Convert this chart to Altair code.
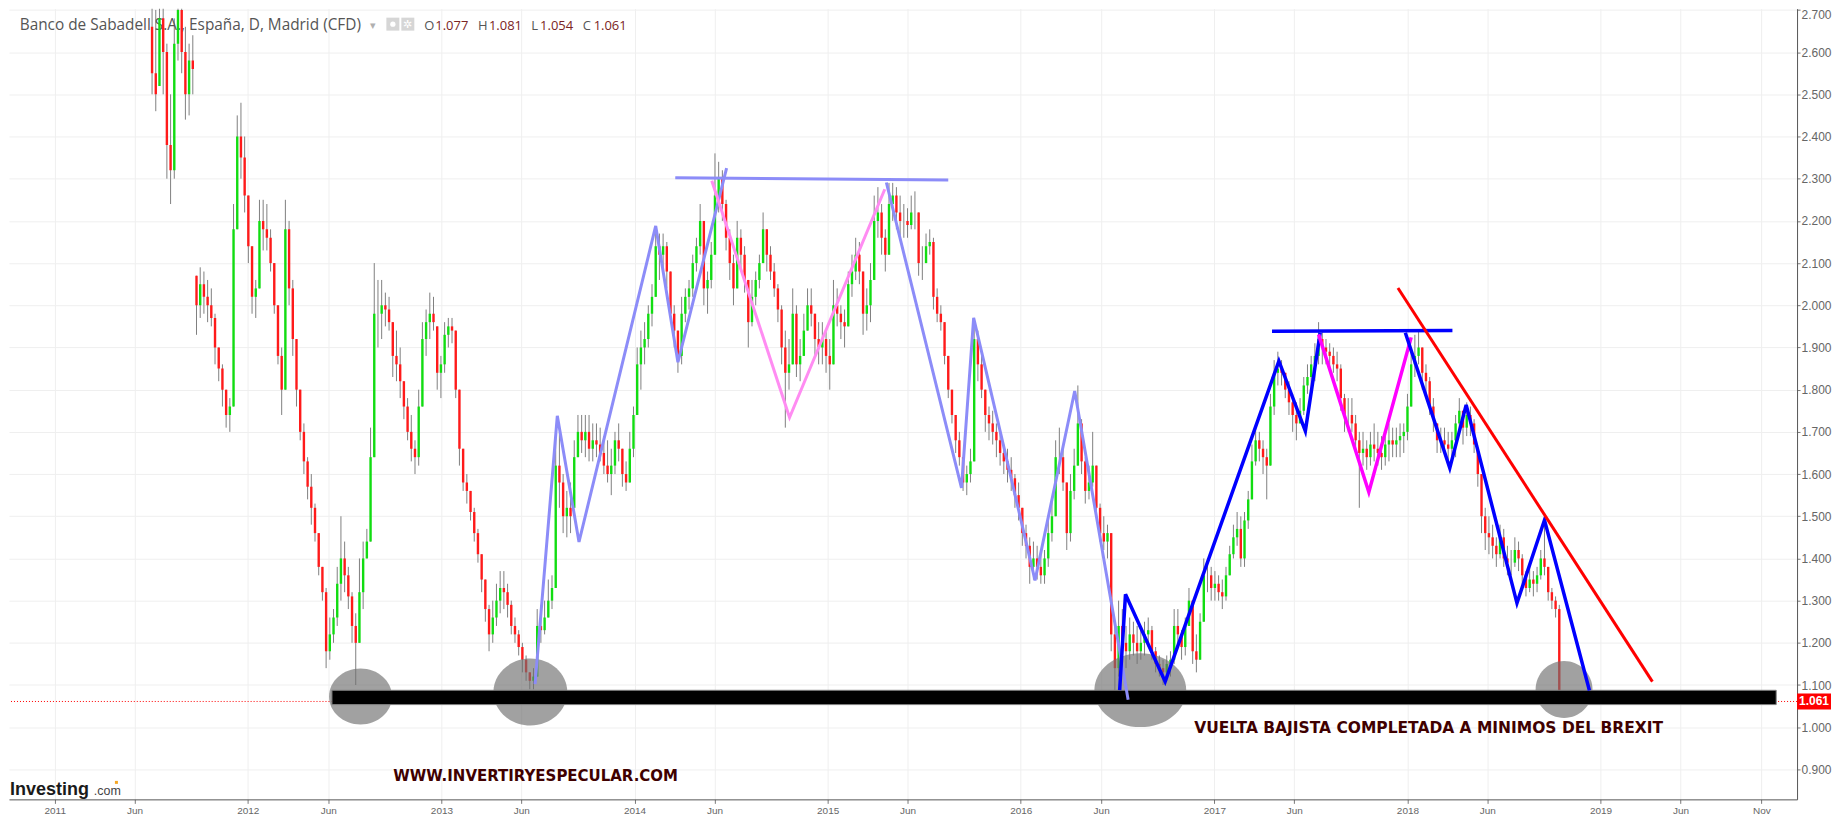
import datetime as dt
import altair as alt
import pandas as pd

# ---------------- data (weekly candles) ----------------
START = dt.date(2011, 7, 4)
FIRST_OPEN = 2.66

HIGH = [
    2.72, 2.70, 2.74, 2.74, 2.62, 2.50, 2.68, 2.76, 2.72, 2.66,
    2.62, 2.64, 2.07, 2.09, 2.08, 2.06, 2.04, 1.98, 1.90, 1.86,
    1.80, 1.78, 2.24, 2.45, 2.48, 2.40, 2.26, 2.14, 2.06, 2.25,
    2.25, 2.24, 2.18, 2.10, 2.00, 1.90, 2.25, 2.20, 2.06, 1.92,
    1.80, 1.72, 1.64, 1.60, 1.53, 1.46, 1.38, 1.33, 1.26, 1.28,
    1.38, 1.50, 1.44, 1.38, 1.32, 1.27, 1.40, 1.44, 1.47, 1.71,
    2.10, 2.06, 2.06, 2.03, 2.02, 1.96, 1.94, 1.90, 1.82, 1.78,
    1.74, 1.68, 1.80, 1.96, 1.99, 2.03, 2.02, 1.95, 1.88, 1.96,
    1.97, 1.97, 1.94, 1.80, 1.66, 1.60, 1.56, 1.52, 1.47, 1.41,
    1.35, 1.29, 1.30, 1.34, 1.37, 1.37, 1.34, 1.30, 1.26, 1.23,
    1.20, 1.17, 1.13, 1.14, 1.28, 1.29, 1.30, 1.35, 1.36, 1.70,
    1.70, 1.60, 1.56, 1.58, 1.68, 1.74, 1.74, 1.74, 1.74, 1.72,
    1.72, 1.71, 1.69, 1.68, 1.66, 1.70, 1.72, 1.66, 1.63, 1.70,
    1.76, 1.90, 1.94, 1.96, 2.00, 2.05, 2.18, 2.17, 2.17, 2.15,
    2.08, 2.00, 1.94, 2.02, 2.04, 2.06, 2.12, 2.16, 2.24, 2.20,
    2.08, 2.15, 2.36, 2.34, 2.32, 2.25, 2.18, 2.12, 2.20, 2.18,
    2.14, 2.06, 2.06, 2.08, 2.12, 2.22, 2.18, 2.14, 2.10, 2.05,
    2.00, 1.94, 1.92, 2.04, 2.00, 1.92, 1.98, 2.04, 2.04, 1.98,
    1.96, 1.96, 1.94, 1.92, 2.06, 2.04, 2.00, 1.99, 2.08, 2.12,
    2.16, 2.15, 2.08, 2.04, 2.10, 2.26, 2.28, 2.24, 2.18, 2.29,
    2.29, 2.28, 2.26, 2.24, 2.23, 2.26, 2.27, 2.22, 2.14, 2.17,
    2.18, 2.16, 2.04, 2.00, 1.96, 1.88, 1.80, 1.74, 1.70, 1.64,
    1.62, 1.66, 1.97, 1.94, 1.88, 1.80, 1.76, 1.75, 1.72, 1.70,
    1.67, 1.66, 1.64, 1.60, 1.58, 1.52, 1.48, 1.45, 1.44, 1.43,
    1.42, 1.42, 1.50, 1.54, 1.68, 1.71, 1.66, 1.58, 1.60, 1.66,
    1.81, 1.73, 1.64, 1.62, 1.70, 1.62, 1.53, 1.50, 1.48, 1.46,
    1.25, 1.30, 1.28, 1.24, 1.26, 1.25, 1.24, 1.23, 1.25, 1.26,
    1.24, 1.19, 1.17, 1.16, 1.17, 1.18, 1.28, 1.28, 1.23, 1.26,
    1.33, 1.30, 1.22, 1.27, 1.40, 1.40, 1.38, 1.37, 1.36, 1.35,
    1.38, 1.43, 1.48, 1.51, 1.50, 1.51, 1.56, 1.67, 1.72, 1.70,
    1.68, 1.66, 1.79, 1.87, 1.89, 1.87, 1.84, 1.82, 1.79, 1.77,
    1.78, 1.83, 1.86, 1.88, 1.91, 1.96, 1.94, 1.92, 1.91, 1.90,
    1.89, 1.86, 1.79, 1.78, 1.78, 1.74, 1.70, 1.70, 1.68, 1.70,
    1.72, 1.70, 1.69, 1.70, 1.72, 1.71, 1.71, 1.72, 1.72, 1.79,
    1.90, 1.93, 1.94, 1.90, 1.86, 1.83, 1.78, 1.72, 1.71, 1.71,
    1.70, 1.70, 1.74, 1.78, 1.75, 1.77, 1.76, 1.73, 1.66, 1.60,
    1.52, 1.50, 1.48, 1.45, 1.48, 1.47, 1.43, 1.42, 1.45, 1.44,
    1.41, 1.37, 1.38, 1.37, 1.38, 1.42, 1.49, 1.38, 1.33, 1.31,
    1.29,
]

LOW = [
    2.50, 2.46, 2.52, 2.50, 2.30, 2.24, 2.30, 2.58, 2.55, 2.44,
    2.45, 2.50, 1.93, 1.97, 1.98, 1.96, 1.95, 1.86, 1.82, 1.76,
    1.71, 1.70, 1.76, 2.18, 2.30, 2.22, 2.10, 1.98, 1.97, 2.04,
    2.13, 2.13, 2.08, 1.98, 1.86, 1.74, 1.80, 2.00, 1.88, 1.76,
    1.68, 1.60, 1.54, 1.48, 1.44, 1.36, 1.30, 1.14, 1.16, 1.20,
    1.24, 1.30, 1.32, 1.28, 1.20, 1.10, 1.20, 1.28, 1.40, 1.44,
    1.64, 1.90, 1.92, 1.95, 1.94, 1.83, 1.82, 1.78, 1.73, 1.68,
    1.63, 1.60, 1.62, 1.76, 1.88, 1.92, 1.94, 1.80, 1.78, 1.84,
    1.90, 1.91, 1.78, 1.62, 1.56, 1.53, 1.49, 1.44, 1.39, 1.32,
    1.25, 1.18, 1.20, 1.24, 1.27, 1.28, 1.26, 1.22, 1.20, 1.17,
    1.13, 1.11, 1.09, 1.09, 1.12, 1.20, 1.22, 1.26, 1.28, 1.33,
    1.52, 1.46, 1.45, 1.46, 1.52, 1.64, 1.65, 1.64, 1.63, 1.63,
    1.64, 1.63, 1.60, 1.58, 1.55, 1.60, 1.63, 1.57, 1.56, 1.58,
    1.64, 1.74, 1.80, 1.86, 1.90, 1.95, 2.02, 2.06, 2.08, 2.04,
    1.96, 1.90, 1.84, 1.86, 1.96, 1.99, 2.02, 2.08, 2.12, 2.00,
    1.98, 2.04, 2.12, 2.22, 2.20, 2.13, 2.06, 2.00, 2.04, 2.08,
    2.03, 1.90, 1.95, 2.00, 2.04, 2.10, 2.08, 2.06, 2.02, 1.96,
    1.86, 1.71, 1.80, 1.86, 1.83, 1.82, 1.88, 1.94, 1.95, 1.88,
    1.86, 1.86, 1.84, 1.80, 1.86, 1.95, 1.92, 1.90, 1.95, 2.02,
    2.06, 2.05, 1.93, 1.94, 1.96, 2.06, 2.16, 2.12, 2.08, 2.12,
    2.20, 2.18, 2.16, 2.16, 2.16, 2.18, 2.18, 2.07, 2.06, 2.10,
    2.12, 1.99, 1.96, 1.94, 1.86, 1.78, 1.72, 1.65, 1.62, 1.56,
    1.55, 1.58, 1.63, 1.82, 1.78, 1.70, 1.68, 1.67, 1.64, 1.62,
    1.60, 1.58, 1.56, 1.52, 1.49, 1.43, 1.40, 1.34, 1.35, 1.35,
    1.34, 1.34, 1.38, 1.44, 1.50, 1.60, 1.56, 1.42, 1.44, 1.54,
    1.62, 1.60, 1.53, 1.54, 1.57, 1.50, 1.44, 1.42, 1.40, 1.18,
    1.08, 1.12, 1.16, 1.14, 1.16, 1.17, 1.15, 1.16, 1.17, 1.19,
    1.16, 1.13, 1.12, 1.10, 1.11, 1.12, 1.15, 1.19, 1.16, 1.17,
    1.24, 1.15, 1.13, 1.16, 1.25, 1.32, 1.30, 1.30, 1.30, 1.28,
    1.30, 1.36, 1.40, 1.43, 1.38, 1.38, 1.47, 1.54, 1.62, 1.63,
    1.60, 1.54, 1.62, 1.74, 1.81, 1.81, 1.78, 1.74, 1.70, 1.68,
    1.72, 1.74, 1.79, 1.80, 1.82, 1.86, 1.86, 1.86, 1.85, 1.84,
    1.82, 1.75, 1.70, 1.70, 1.70, 1.65, 1.52, 1.62, 1.61, 1.62,
    1.63, 1.62, 1.61, 1.62, 1.63, 1.64, 1.64, 1.64, 1.65, 1.68,
    1.76, 1.83, 1.86, 1.80, 1.78, 1.74, 1.70, 1.65, 1.65, 1.65,
    1.63, 1.63, 1.64, 1.70, 1.67, 1.69, 1.69, 1.65, 1.57, 1.46,
    1.42, 1.41, 1.40, 1.38, 1.40, 1.38, 1.36, 1.36, 1.38, 1.37,
    1.34, 1.31, 1.32, 1.31, 1.32, 1.35, 1.36, 1.30, 1.28, 1.26,
    1.054,
]

CLOSE = [
    2.55, 2.50, 2.68, 2.60, 2.38, 2.32, 2.62, 2.70, 2.60, 2.50,
    2.58, 2.56, 2.00, 2.05, 2.02, 2.00, 1.97, 1.90, 1.85, 1.80,
    1.74, 1.76, 2.18, 2.40, 2.35, 2.26, 2.14, 2.02, 2.04, 2.20,
    2.18, 2.16, 2.10, 2.00, 1.88, 1.80, 2.18, 2.04, 1.92, 1.80,
    1.70, 1.63, 1.57, 1.52, 1.46, 1.38, 1.32, 1.18, 1.22, 1.26,
    1.34, 1.40, 1.36, 1.31, 1.24, 1.20, 1.32, 1.40, 1.44, 1.64,
    1.98, 1.98, 2.00, 1.99, 1.96, 1.88, 1.86, 1.82, 1.76, 1.70,
    1.66, 1.64, 1.76, 1.92, 1.96, 1.98, 1.96, 1.84, 1.86, 1.93,
    1.95, 1.94, 1.80, 1.66, 1.58, 1.56, 1.51, 1.46, 1.41, 1.35,
    1.28, 1.22, 1.26, 1.30, 1.33, 1.32, 1.29, 1.24, 1.22, 1.19,
    1.16, 1.13, 1.11, 1.12, 1.24, 1.23, 1.26, 1.30, 1.33, 1.62,
    1.58, 1.50, 1.52, 1.50, 1.64, 1.70, 1.68, 1.70, 1.66, 1.68,
    1.67, 1.65, 1.62, 1.60, 1.62, 1.68, 1.66, 1.60, 1.58, 1.66,
    1.74, 1.86, 1.90, 1.92, 1.98, 2.02, 2.14, 2.12, 2.14, 2.08,
    1.98, 1.94, 1.88, 1.98, 2.02, 2.04, 2.10, 2.14, 2.20, 2.04,
    2.06, 2.12, 2.26, 2.30, 2.24, 2.16, 2.10, 2.04, 2.16, 2.12,
    2.06, 1.96, 2.02, 2.06, 2.10, 2.18, 2.12, 2.08, 2.04, 1.99,
    1.90, 1.84, 1.86, 1.98, 1.86, 1.88, 1.94, 2.00, 1.98, 1.92,
    1.90, 1.92, 1.88, 1.86, 2.00, 1.98, 1.96, 1.95, 2.05, 2.08,
    2.12, 2.08, 1.98, 2.00, 2.06, 2.20, 2.22, 2.16, 2.12, 2.24,
    2.26, 2.22, 2.20, 2.20, 2.19, 2.22, 2.22, 2.10, 2.10, 2.14,
    2.15, 2.02, 1.98, 1.96, 1.88, 1.80, 1.74, 1.68, 1.64, 1.58,
    1.60, 1.63, 1.92, 1.86, 1.80, 1.74, 1.72, 1.70, 1.68, 1.65,
    1.63, 1.61, 1.59, 1.55, 1.52, 1.46, 1.43, 1.38, 1.40, 1.38,
    1.36, 1.40, 1.46, 1.50, 1.64, 1.64, 1.58, 1.46, 1.56, 1.62,
    1.72, 1.63, 1.56, 1.58, 1.62, 1.52, 1.46, 1.44, 1.46, 1.22,
    1.14, 1.24, 1.20, 1.18, 1.22, 1.20, 1.18, 1.20, 1.22, 1.23,
    1.18, 1.15, 1.14, 1.13, 1.15, 1.16, 1.24, 1.22, 1.19, 1.24,
    1.30, 1.18, 1.16, 1.25, 1.36, 1.36, 1.33, 1.34, 1.32, 1.31,
    1.36, 1.41, 1.45, 1.47, 1.40, 1.49, 1.54, 1.63, 1.68, 1.66,
    1.64, 1.62, 1.76, 1.84, 1.85, 1.84, 1.80, 1.77, 1.74, 1.72,
    1.75, 1.81, 1.83, 1.86, 1.88, 1.92, 1.90, 1.89, 1.88, 1.86,
    1.85, 1.78, 1.74, 1.74, 1.72, 1.68, 1.65, 1.66, 1.64, 1.67,
    1.66, 1.65, 1.64, 1.67, 1.68, 1.67, 1.68, 1.69, 1.70, 1.76,
    1.86, 1.88, 1.90, 1.84, 1.82, 1.76, 1.73, 1.68, 1.68, 1.67,
    1.66, 1.68, 1.72, 1.75, 1.71, 1.74, 1.72, 1.67, 1.60, 1.50,
    1.46, 1.45, 1.43, 1.41, 1.45, 1.40, 1.39, 1.39, 1.42, 1.40,
    1.36, 1.33, 1.35, 1.34, 1.36, 1.40, 1.38, 1.32, 1.30, 1.28,
    1.061,
]

# drawn trend lines: vertices (date, price)
LINE_POINTS = {
    "A": [("2013-06-27", 1.102), ("2013-08-08", 1.738), ("2013-09-18", 1.439),
          ("2014-02-10", 2.188), ("2014-03-24", 1.865), ("2014-06-24", 2.325)],
    "B": [("2014-03-19", 2.302), ("2015-08-17", 2.297)],
    "M1": [("2014-05-27", 2.295), ("2014-10-21", 1.734), ("2015-04-19", 2.275)],
    "C": [("2015-04-22", 2.291), ("2015-09-11", 1.567), ("2015-10-04", 1.970),
          ("2016-01-28", 1.348), ("2016-04-12", 1.797), ("2016-07-22", 1.065)],
    "D": [("2016-07-06", 1.088), ("2016-07-17", 1.315), ("2016-09-30", 1.108),
          ("2017-05-03", 1.868), ("2017-06-22", 1.702), ("2017-07-20", 1.935)],
    "E": [("2017-04-20", 1.9386), ("2018-03-27", 1.940)],
    "M2": [("2017-07-17", 1.931), ("2017-10-20", 1.557), ("2018-01-08", 1.924)],
    "G": [("2017-12-28", 1.935), ("2018-03-22", 1.614), ("2018-04-22", 1.764),
          ("2018-07-27", 1.294), ("2018-09-17", 1.491), ("2018-12-11", 1.087)],
    "R": [("2017-12-14", 2.041), ("2019-04-09", 1.108)],
}

ELLIPSE_DATES = ["2012-08-01", "2013-06-18", "2016-08-14", "2018-10-24"]
ELLIPSE_PRICES = [1.0727, 1.0833, 1.0878, 1.0892]

SUPPORT_DATES = ["2012-06-08", "2019-11-29"]
SUPPORT_PRICES = [1.0875, 1.0536]

LAST_PRICE = 1.061
LAST_LABEL = "1.061"

NOTE_TEXTS = ["WWW.INVERTIRYESPECULAR.COM",
              "VUELTA BAJISTA COMPLETADA A MINIMOS DEL BREXIT"]
NOTE_DATES = ["2013-06-28", "2018-02-10"]
NOTE_PRICES = [0.8723, 0.9851]

TITLE = "Banco de Sabadell S.A., España, D, Madrid (CFD)"
OHLC_KEYS = ["O", "H", "L", "C"]
OHLC_VALUES = ["1.077", "1.081", "1.054", "1.061"]

Y_TICKS = [round(0.9 + 0.1 * k, 1) for k in range(19)]
X_TICKS = []
for yr in range(2011, 2020):
    X_TICKS.append((yr, 1))
    X_TICKS.append((yr, 6))
X_TICKS.append((2019, 11))

# ---------------- styles ----------------
W, H = 1791, 792
TAG_W = 34
LINE_STYLE = {
    "A": ("#8c8cf8", 3), "B": ("#8c8cf8", 3), "C": ("#8c8cf8", 3),
    "M1": ("#ff8cf2", 3),
    "D": ("#0000ff", 3.5), "E": ("#0000ff", 3.5), "G": ("#0000ff", 3.5),
    "M2": ("#ff00ff", 3.5),
    "R": ("#ff0000", 3),
}
ELLIPSE_WH = [(63, 56), (74, 67), (92, 74), (57, 57)]
NOTE_SIZES = [15, 15.5]

# ---------------- tables ----------------
rows = []
prev = None
for i, (h, l, c) in enumerate(zip(HIGH, LOW, CLOSE)):
    o = FIRST_OPEN if prev is None else min(max(prev, l), h)
    rows.append({"date": (START + dt.timedelta(days=7 * i)).isoformat(),
                 "open": o, "high": h, "low": l, "close": c})
    prev = c
candles = pd.DataFrame(rows)

lrows = []
for seg, pts in LINE_POINTS.items():
    col, sw = LINE_STYLE[seg]
    for k, (d, p) in enumerate(pts):
        lrows.append({"seg": seg, "k": k, "date": d, "price": p, "col": col, "sw": sw})
lines = pd.DataFrame(lrows)

erows = []
for d, p, (w, hh) in zip(ELLIPSE_DATES, ELLIPSE_PRICES, ELLIPSE_WH):
    r = round(hh / w, 4)
    erows.append({"date": d, "price": p, "sz": w * w,
                  "shp": f"M-1,0A1,{r},0,1,1,1,0A1,{r},0,1,1,-1,0Z"})
ellipses = pd.DataFrame(erows)

support = pd.DataFrame([{"d1": SUPPORT_DATES[0], "d2": SUPPORT_DATES[1],
                         "p1": SUPPORT_PRICES[0], "p2": SUPPORT_PRICES[1]}])
last = pd.DataFrame([{"price": LAST_PRICE, "label": LAST_LABEL}])
notes = pd.DataFrame({"text": NOTE_TEXTS, "date": NOTE_DATES,
                      "price": NOTE_PRICES, "fs": NOTE_SIZES})

# ---------------- scales / axes ----------------
xs = alt.Scale(type="utc", domain=[alt.DateTime(year=2010, month=10, date=16, utc=True),
                                    alt.DateTime(year=2019, month=12, date=29, utc=True)])
xa = alt.Axis(values=[alt.DateTime(year=y, month=m, date=1, utc=True) for y, m in X_TICKS],
              labelExpr="utcmonth(datum.value) == 0 ? utcFormat(datum.value, '%Y') : utcFormat(datum.value, '%b')",
              grid=True, gridColor="#efefef", domainColor="#555555", tickColor="#777777",
              tickSize=4, labelPadding=2, labelColor="#666666", labelFont="Liberation Sans",
              labelFontSize=10, labelFlush=False, labelOverlap=False, title=None)
ys = alt.Scale(domain=[0.829, 2.703], nice=False, zero=False)
ya = alt.Axis(orient="right", values=Y_TICKS, format=".3f", grid=True, gridColor="#efefef",
              domainColor="#555555", tickColor="#777777", tickSize=3, labelPadding=1,
              labelColor="#666666", labelFont="Liberation Sans", labelFontSize=12,
              labelFlush=6, labelOverlap=False, title=None)


def X(f):
    return alt.X(f, type="temporal", scale=xs, axis=xa, title=None)


def Y(f):
    return alt.Y(f, type="quantitative", scale=ys, axis=ya, title=None)


one = alt.Data(values=[{}])

# header / logo overlays
title_layer = alt.Chart(one).mark_text(text=TITLE, font="Open Sans", fontSize=15.4, color="#555555",
                                       align="left", baseline="alphabetic").encode(
    x=alt.value(10.75), y=alt.value(21))
arrow_layer = alt.Chart(one).mark_text(text="▾", fontSize=11, color="#b0b0b0",
                                       align="left", baseline="alphabetic").encode(
    x=alt.value(362), y=alt.value(20))
icon_layers = [alt.Chart(one).mark_square(size=169, color="#d6d6d6", opacity=1, filled=True).encode(
    x=alt.value(px), y=alt.value(15.5)) for px in (384.5, 399.5)]
icon_marks = [
    alt.Chart(one).mark_circle(size=28, color="#ffffff", opacity=1).encode(
        x=alt.value(384.5), y=alt.value(15.5)),
    alt.Chart(one).mark_text(text="✲", fontSize=11, color="#ffffff", align="center",
                             baseline="middle").encode(x=alt.value(399.5), y=alt.value(16)),
]
key_x = [416, 469.7, 523, 574.6]
val_x = [427, 480.7, 532, 585.6]
ohlc_layers = []
for kx, vx, kk, vv in zip(key_x, val_x, OHLC_KEYS, OHLC_VALUES):
    ohlc_layers.append(alt.Chart(one).mark_text(text=kk, font="Open Sans", fontSize=13, color="#555555",
                                                align="left", baseline="alphabetic").encode(
        x=alt.value(kx), y=alt.value(21)))
    ohlc_layers.append(alt.Chart(one).mark_text(text=vv, font="Open Sans", fontSize=13, color="#7a2424",
                                                align="left", baseline="alphabetic").encode(
        x=alt.value(vx), y=alt.value(21)))

logo1 = alt.Chart(one).mark_text(text="Investing", font="Liberation Sans", fontSize=18, fontWeight="bold",
                                 color="#1a1a1a", align="left", baseline="alphabetic").encode(
    x=alt.value(1), y=alt.value(788))
logo2 = alt.Chart(one).mark_text(text=".com", font="Liberation Sans", fontSize=12.5, color="#444444",
                                 align="left", baseline="alphabetic").encode(
    x=alt.value(85), y=alt.value(788))
logo_dot = alt.Chart(one).mark_square(size=9, color="#f5a623", filled=True, opacity=1).encode(
    x=alt.value(107.6), y=alt.value(775))

# ---------------- chart layers ----------------
base = alt.Chart(candles)
wicks = base.mark_rule(color="#808080", strokeWidth=1, clip=True).encode(
    x=X("date"), y=Y("low"), y2="high")
bodies = base.mark_bar(width=2.4, clip=True).encode(
    x=X("date"), y=Y("open"), y2="close",
    color=alt.condition("datum.close >= datum.open", alt.value("#11dd11"), alt.value("#ff1a1a")))

price_rule = alt.Chart(last).mark_rule(color="#ff0000", strokeDash=[1, 2], strokeWidth=1).encode(
    y=Y("price"))

ell = alt.Chart(ellipses).mark_point(filled=True, color="#6e6e6e", opacity=0.65, strokeWidth=0).encode(
    x=X("date"), y=Y("price"),
    shape=alt.Shape("shp:N", scale=None),
    size=alt.Size("sz:Q", scale=None))

bar = alt.Chart(support).mark_rect(color="#000000", stroke="#808080", strokeWidth=1).encode(
    x=X("d1"), x2="d2", y=Y("p1"), y2="p2")

trend = alt.Chart(lines).mark_line().encode(
    x=X("date"), y=Y("price"),
    detail="seg:N", order="k:Q",
    color=alt.Color("col:N", scale=None),
    strokeWidth=alt.StrokeWidth("sw:Q", scale=None))

note_text = alt.Chart(notes).mark_text(font="DejaVu Sans", fontWeight="bold", color="#400000",
                                       align="center", baseline="alphabetic").encode(
    x=X("date"), y=Y("price"), text="text:N",
    size=alt.Size("fs:Q", scale=None))

tag = alt.Chart(last).mark_point(shape="M-1,-0.47L1,-0.47L1,0.47L-1,0.47Z", size=TAG_W * TAG_W,
                                 filled=True, color="#ff0000", opacity=1, strokeWidth=0).encode(
    x=alt.value(W + TAG_W / 2), y=Y("price"))
tag_text = alt.Chart(last).mark_text(color="#ffffff", fontWeight="bold", font="Liberation Sans",
                                     fontSize=12, align="center", baseline="middle").encode(
    x=alt.value(W + TAG_W / 2), y=Y("price"), text="label:N")

chart = alt.layer(
    wicks, title_layer, arrow_layer, *icon_layers, *icon_marks, *ohlc_layers,
    bodies, price_rule, ell, bar, trend, note_text, tag, tag_text,
    logo1, logo2, logo_dot,
).properties(width=W, height=H, padding=0).configure_view(stroke=None)

chart.save("out.html", embed_options={"renderer": "svg", "actions": False})
